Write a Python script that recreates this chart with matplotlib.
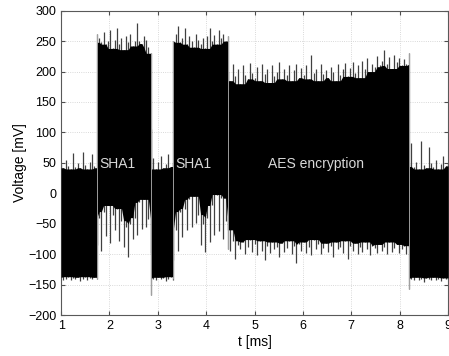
import numpy as np
import matplotlib.pyplot as plt

plt.rcParams['font.family'] = ['Liberation Sans', 'DejaVu Sans']

# Envelope tips of the trace (mV), read per segment; segment bounds in ms
b1_t = (1.0, 1.74)
b1_up = [48, 42, 55, 45, 40, 66, 44, 50, 42, 68, 46, 40, 52, 64, 45, 42]
b1_lo = [-138, -142, -140, -137, -143, -139, -141, -138, -144, -140, -137, -142, -139, -141, -138, -140]

s1_t = (1.74, 2.85)
s1_up = [262, 255, 248, 265, 245, 250, 268, 238, 252, 272, 246, 255, 236, 258, 248,
         262, 242, 250, 280, 250, 246, 258, 252, 240, 230]
s1_lo = [-85, -40, -95, -30, -70, -20, -82, -35, -60, -25, -78, -45, -88, -55, -104,
         -50, -75, -40, -68, -15, -58, -10, -55, -42, -98]

b2_t = (2.85, 3.32)
b2_up = [105, 58, 40, 52, 62, 42, 48, 65, 44, 50]
b2_lo = [-167, -140, -143, -138, -141, -139, -144, -140, -137, -142]

s2_t = (3.32, 4.45)
s2_up = [250, 262, 275, 248, 255, 272, 245, 258, 250, 240, 262, 252, 246, 255, 238,
         258, 272, 250, 260, 245, 268, 255, 262, 250, 258]
s2_lo = [-110, -60, -95, -30, -72, -25, -60, -10, -55, -5, -48, -35, -85, -50, -96,
         -40, -80, -20, -68, -2, -62, -8, -75, -45, -92]

aes_t = (4.45, 8.19)
aes_up = [200, 185, 212, 192, 205, 180, 210, 195, 188, 214, 198,
          190, 208, 185, 212, 196, 204, 182, 210, 192, 200,
          215, 188, 205, 194, 210, 185, 202, 212, 190, 206,
          195, 210, 188, 227, 198, 205, 185, 212, 196, 203,
          190, 208, 200, 185, 212, 195, 204, 214, 192, 206,
          215, 198, 210, 190, 218, 205, 222, 200, 212, 208,
          225, 210, 218, 236, 212, 224, 205, 228, 215, 222, 210, 220, 212, 230]
aes_lo = [-60, -95, -78, -108, -85, -92, -80, -100, -88, -76, -96,
          -84, -102, -78, -94, -110, -86, -98, -80, -92, -88,
          -104, -82, -96, -90, -78, -100, -86, -115, -84, -94,
          -80, -98, -88, -102, -76, -92, -84, -100, -90, -82,
          -96, -86, -104, -80, -92, -88, -98, -78, -108, -86,
          -94, -82, -100, -88, -96, -80, -92, -102, -86, -90,
          -98, -84, -94, -88, -100, -80, -96, -90, -84, -98, -92, -86, -100, -88]

b3_t = (8.19, 9.0)
b3_up = [48, 82, 44, 52, 40, 86, 46, 42, 76, 50, 44, 55, 40, 48, 62, 45, 50]
b3_lo = [-158, -140, -143, -138, -142, -140, -145, -139, -141, -143, -138, -142, -140, -144, -139, -141, -140]

# transitions between segments
edge_t = [1.74, 2.85, 3.32, 4.45, 8.19]
edge_lo = [-140, -167, -140, -92, -158]
edge_hi = [262, 230, 250, 258, 230]

labels = ['SHA1', 'SHA1', 'AES encryption']
label_t = [2.16, 3.74, 6.26]
label_v = [48, 48, 48]

segments = [(b1_t, b1_up, b1_lo), (s1_t, s1_up, s1_lo), (b2_t, b2_up, b2_lo),
            (s2_t, s2_up, s2_lo), (aes_t, aes_up, aes_lo), (b3_t, b3_up, b3_lo)]


def core(vals, fn, w=2):
    # solid part of the trace: the tip that all nearby samples reach
    p = np.pad(np.array(vals, float), w, mode='edge')
    n = len(vals)
    return fn(np.vstack([p[i:i + n] for i in range(2 * w + 1)]), axis=0)


fig = plt.figure(figsize=(4.49, 3.56), dpi=100)
ax = fig.add_axes([0.136, 0.115, 0.862, 0.855])

for (t0, t1), up, lo in segments:
    t = np.linspace(t0, t1, len(up))
    ax.vlines(t, lo, up, color='0.25', lw=0.9, zorder=2)
    ax.fill_between(t, core(lo, np.max), core(up, np.min), color='black', lw=0, zorder=3)

ax.vlines(edge_t, edge_lo, edge_hi, color='0.7', lw=0.6, zorder=4)

for txt, x, y in zip(labels, label_t, label_v):
    ax.text(x, y, txt, color='#d8d8d8', fontsize=10, ha='center', va='center', zorder=5)

ax.set_xlim(1, 9)
ax.set_ylim(-200, 300)
ax.set_xticks(range(1, 10))
ax.set_yticks(range(-200, 301, 50))
ax.grid(True, color='0.8', ls=':', lw=0.6, zorder=0)
ax.set_axisbelow(True)
ax.tick_params(direction='in', top=True, right=True, length=3, labelsize=9, color='0.3')
for s in ax.spines.values():
    s.set_color('0.35')
    s.set_linewidth(0.8)
ax.set_xlabel('t [ms]', fontsize=10, labelpad=2)
ax.set_ylabel('Voltage [mV]', fontsize=10, labelpad=1)

fig.savefig('out.png', dpi=100)
